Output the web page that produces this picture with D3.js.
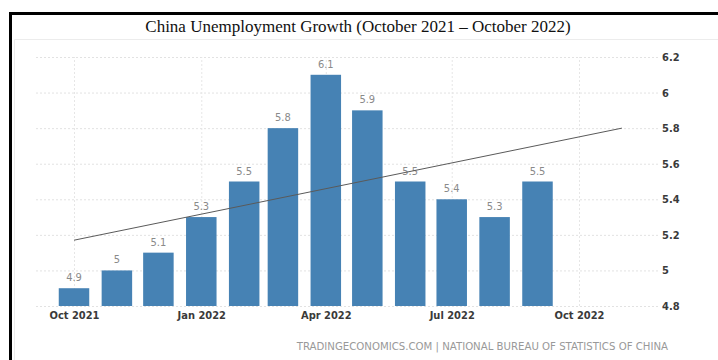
<!DOCTYPE html>
<html lang="en">
<head>
    <meta charset="UTF-8">
    <title>China Unemployment Growth</title>
    <script src="https://d3js.org/d3.v7.min.js"></script>
    <style>
        body {
            margin: 0;
            background: #fff;
        }
        svg {
            display: block;
        }
        .tick-label {
            font-family: "DejaVu Sans Condensed", "DejaVu Sans", sans-serif;
            font-size: 11px;
            font-weight: bold;
            fill: #3a3a3a;
        }
        .value-label {
            font-family: "DejaVu Sans Condensed", "DejaVu Sans", sans-serif;
            font-size: 11px;
            fill: #8a8a8a;
        }
    </style>
</head>
<body>
    <div id="chart"></div>
    <script>
        // monthly unemployment rate, Oct 2021 - Sep 2022
        const months = ["2021-10", "2021-11", "2021-12", "2022-01", "2022-02", "2022-03",
                        "2022-04", "2022-05", "2022-06", "2022-07", "2022-08", "2022-09"];
        const rates = [4.9, 5, 5.1, 5.3, 5.5, 5.8, 6.1, 5.9, 5.5, 5.4, 5.3, 5.5];

        // trend line end points
        const trendMonths = ["2021-10", "2022-11"];
        const trendValues = [5.17, 5.8];

        const xTicks = ["2021-10", "2022-01", "2022-04", "2022-07", "2022-10"];
        const yTicks = [4.8, 5, 5.2, 5.4, 5.6, 5.8, 6, 6.2];

        const title = "China Unemployment Growth (October 2021 \u2013 October 2022)";
        const source = "TRADINGECONOMICS.COM | NATIONAL BUREAU OF STATISTICS OF CHINA";

        const parseMonth = d3.utcParse("%Y-%m");
        const data = months.map((m, i) => ({date: parseMonth(m), value: rates[i]}));
        const trend = trendMonths.map((m, i) => ({date: parseMonth(m), value: trendValues[i]}));

        const width = 718, height = 360;
        const svg = d3.select("#chart").append("svg")
            .attr("width", width)
            .attr("height", height);

        // outer frame and inner picture border
        svg.append("path")
            .attr("d", "M14.5,360V39.5H718")
            .attr("fill", "none")
            .attr("stroke", "#ececec");
        svg.append("path")
            .attr("d", "M10.5,360V13.5H718")
            .attr("fill", "none")
            .attr("stroke", "#000")
            .attr("stroke-width", 3);

        svg.append("text")
            .attr("x", 358)
            .attr("y", 32)
            .attr("text-anchor", "middle")
            .style("font-family", "'Liberation Serif', 'Times New Roman', serif")
            .style("font-size", "17px")
            .style("fill", "#111")
            .text(title);

        const x = d3.scaleUtc()
            .domain([parseMonth("2021-10"), parseMonth("2022-10")])
            .range([74, 579]);

        const y = d3.scaleLinear()
            .domain([4.8, 6.2])
            .range([306, 57]);

        // horizontal grid
        svg.append("g")
            .attr("transform", "translate(658,0)")
            .call(d3.axisLeft(y).tickValues(yTicks).tickSize(623).tickFormat(""))
            .call(g => g.select(".domain").remove())
            .call(g => g.selectAll("line")
                .attr("stroke", "#e2e2e2")
                .attr("stroke-dasharray", "2,2"));

        // vertical grid
        svg.append("g")
            .attr("transform", "translate(0,306)")
            .call(d3.axisTop(x).tickValues(xTicks.map(parseMonth)).tickSize(249).tickFormat(""))
            .call(g => g.select(".domain").remove())
            .call(g => g.selectAll("line")
                .attr("stroke", "#e6e6e6")
                .attr("stroke-dasharray", "2,2"));

        const barWidth = 30.5;
        svg.selectAll(".bar")
            .data(data)
            .enter().append("rect")
            .attr("class", "bar")
            .attr("x", d => x(d.date) - barWidth / 2)
            .attr("y", d => y(d.value))
            .attr("width", barWidth)
            .attr("height", d => y(4.8) - y(d.value))
            .attr("fill", "#4682b4");

        svg.selectAll(".value-label")
            .data(data)
            .enter().append("text")
            .attr("class", "value-label")
            .attr("x", d => x(d.date))
            .attr("y", d => y(d.value) - 7)
            .attr("text-anchor", "middle")
            .text(d => d.value);

        const line = d3.line()
            .x(d => x(d.date))
            .y(d => y(d.value));

        svg.append("path")
            .datum(trend)
            .attr("d", line)
            .attr("fill", "none")
            .attr("stroke", "#5a5a5a")
            .attr("stroke-width", 1);

        // x axis labels
        svg.append("g")
            .attr("transform", "translate(0,306)")
            .call(d3.axisBottom(x).tickValues(xTicks.map(parseMonth))
                .tickFormat(d3.utcFormat("%b %Y")).tickSize(0).tickPadding(5))
            .call(g => g.select(".domain").remove())
            .call(g => g.selectAll("text").attr("class", "tick-label").attr("fill", null));

        // y axis labels
        svg.append("g")
            .attr("transform", "translate(658,0)")
            .call(d3.axisRight(y).tickValues(yTicks).tickFormat(d3.format("~g"))
                .tickSize(0).tickPadding(4))
            .call(g => g.select(".domain").remove())
            .call(g => g.selectAll("text").attr("class", "tick-label").attr("fill", null));

        svg.append("text")
            .attr("x", 668)
            .attr("y", 350)
            .attr("text-anchor", "end")
            .style("font-family", "'DejaVu Sans Condensed', 'DejaVu Sans', sans-serif")
            .style("font-size", "11.3px")
            .style("fill", "#999")
            .text(source);
    </script>
</body>
</html>
